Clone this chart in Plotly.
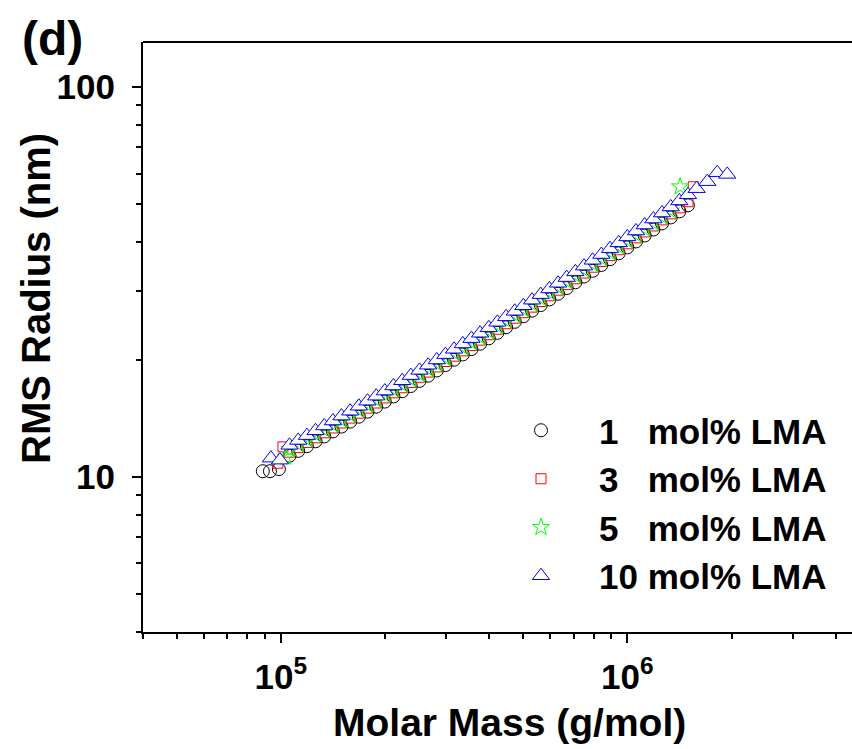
import math
import plotly.graph_objects as go

# ---------------- data ----------------
# common molar-mass grid (g/mol) along which points were read
M_grid = [105900, 112200, 118900, 125900, 133400, 141300, 149600, 158500, 167900, 177800,
          188400, 199500, 211300, 223900, 237100, 251200, 266100, 281800, 298500, 316200,
          335000, 354800, 375800, 398100, 421700, 446700, 473200, 501200, 530900, 562300,
          595700, 631000, 668300, 707900, 749900, 794300, 841400, 891300, 944100, 1000000,
          1059000, 1122000, 1189000, 1259000, 1334000, 1413000, 1496000, 1585000]

# 1 mol% LMA (black circles)
M_1 = [88700, 93000, 98700] + M_grid[:47]
R_1 = [10.34, 10.34, 10.47,
       11.33, 11.66, 11.99, 12.34, 12.70, 13.08, 13.46, 13.86, 14.27, 14.70,
       15.14, 15.60, 16.08, 16.58, 17.10, 17.63, 18.18, 18.75, 19.35, 19.98,
       20.61, 21.27, 21.96, 22.67, 23.42, 24.20, 24.99, 25.83, 26.70, 27.59,
       28.53, 29.50, 30.50, 31.56, 32.65, 33.78, 34.96, 36.18, 37.46, 38.79,
       40.18, 41.61, 43.11, 44.68, 46.30, 47.98, 49.74]

# 3 mol% LMA (red squares)
M_3 = [98000, 101400] + M_grid[:47] + [1550000]
R_3 = [10.84, 11.94,
       11.57, 11.90, 12.25, 12.60, 12.97, 13.35, 13.75, 14.15, 14.57, 15.01,
       15.47, 15.94, 16.43, 16.93, 17.46, 18.01, 18.57, 19.15, 19.77, 20.40,
       21.05, 21.72, 22.43, 23.16, 23.92, 24.71, 25.53, 26.38, 27.26, 28.18,
       29.14, 30.12, 31.15, 32.23, 33.34, 34.50, 35.70, 36.95, 38.26, 39.62,
       41.03, 42.50, 44.03, 45.63, 47.28, 49.00, 50.80,
       55.5]

# 5 mol% LMA (green stars)
M_5 = [103400] + M_grid[:45] + [1420000]
R_5 = [11.24,
       11.77, 12.11, 12.47, 12.83, 13.20, 13.59, 13.99, 14.40, 14.83, 15.28,
       15.74, 16.22, 16.72, 17.23, 17.77, 18.33, 18.90, 19.49, 20.12, 20.76,
       21.43, 22.11, 22.82, 23.57, 24.35, 25.15, 25.98, 26.85, 27.75, 28.68,
       29.65, 30.66, 31.70, 32.80, 33.93, 35.11, 36.34, 37.61, 38.93, 40.32,
       41.76, 43.25, 44.81, 46.44, 48.12,
       55.5]

# 10 mol% LMA (blue triangles)
M_10 = [93600, 99400] + M_grid + [1701000, 1817000, 1942000]
R_10 = [11.17, 11.04,
        12.05, 12.40, 12.76, 13.13, 13.51, 13.91, 14.32, 14.74, 15.18, 15.64,
        16.11, 16.60, 17.11, 17.64, 18.19, 18.76, 19.34, 19.95, 20.59, 21.25,
        21.93, 22.63, 23.36, 24.12, 24.92, 25.74, 26.59, 27.48, 28.40, 29.35,
        30.35, 31.38, 32.45, 33.57, 34.73, 35.94, 37.19, 38.49, 39.85, 41.27,
        42.74, 44.27, 45.86, 47.53, 49.25, 51.04, 52.92, 54.87,
        57.2, 60.3, 59.7]

labels = ["1\u00a0\u00a0\u00a0mol% LMA", "3\u00a0\u00a0\u00a0mol% LMA",
          "5\u00a0\u00a0\u00a0mol% LMA", "10 mol% LMA"]

x_major = [1e5, 1e6]
x_major_text = ["10<sup>5</sup>", "10<sup>6</sup>"]
x_minor = [4e4, 5e4, 6e4, 7e4, 8e4, 9e4, 2e5, 3e5, 4e5, 5e5, 6e5, 7e5, 8e5, 9e5,
           2e6, 3e6, 4e6]
y_major = [10, 100]
y_major_text = ["10", "100"]
y_minor = [4, 5, 6, 7, 8, 9, 20, 30, 40, 50, 60, 70, 80, 90]

# ---------------- figure ----------------
FONT = "Liberation Sans, Arial, sans-serif"

fig = go.Figure()
series = [
    (M_1, R_1, labels[0], "circle-open", "#000000", 13, None),
    (M_3, R_3, labels[1], "square-open", "#FF0000", 10, None),
    (M_5, R_5, labels[2], "star-open", "#00FF00", 13, None),
    (M_10, R_10, labels[3], "triangle-up", "#0000FF", 15, "#FFFFFF"),
]
for i, (mx, ry, name, sym, col, sz, fill) in enumerate(series):
    marker = dict(symbol=sym, size=sz, line=dict(color=col, width=1))
    marker["color"] = fill if fill else col
    fig.add_trace(go.Scatter(
        x=mx, y=ry, mode="markers", name=name, marker=marker,
    ))

tickfont = dict(family=FONT, size=35, color="black", weight="bold")

fig.update_xaxes(
    type="log", range=[math.log10(4e4), 6.6484],
    showline=True, linecolor="black", linewidth=2, mirror=False,
    showgrid=False, zeroline=False,
    tickmode="array", tickvals=x_major, ticktext=x_major_text,
    ticks="outside", ticklen=9, tickwidth=2, tickcolor="black",
    tickfont=tickfont, ticklabelstandoff=4,
    minor=dict(tickmode="array", tickvals=x_minor, ticks="outside",
               ticklen=5, tickwidth=2, tickcolor="black", showgrid=False),
)
fig.update_yaxes(
    type="log", range=[math.log10(4), math.log10(130.5)],
    showline=True, linecolor="black", linewidth=2, mirror=False,
    showgrid=False, zeroline=False,
    tickmode="array", tickvals=y_major, ticktext=y_major_text,
    ticks="outside", ticklen=9, tickwidth=2, tickcolor="black",
    tickfont=tickfont, ticklabelstandoff=10,
    minor=dict(tickmode="array", tickvals=y_minor, ticks="outside",
               ticklen=5, tickwidth=2, tickcolor="black", showgrid=False),
)

# top border line
fig.add_shape(type="line", xref="paper", yref="paper", x0=0, x1=1, y0=1, y1=1,
              line=dict(color="black", width=2))

W, H = 852, 749
ML, MR, MT, MB = 143, 0, 42, 117
pw, ph = W - ML - MR, H - MT - MB

def px_x(x):
    return (x - ML) / pw

def px_y(y):
    return (H - MB - y) / ph

fig.add_annotation(text="Molar Mass (g/mol)", xref="paper", yref="paper",
                   x=px_x(509), y=px_y(722), showarrow=False,
                   xanchor="center", yanchor="middle",
                   font=dict(family=FONT, size=39, color="black", weight="bold"))
fig.add_annotation(text="RMS Radius (nm)", xref="paper", yref="paper",
                   x=px_x(36), y=px_y(299), showarrow=False, textangle=-90,
                   xanchor="center", yanchor="middle",
                   font=dict(family=FONT, size=40, color="black", weight="bold"))
fig.add_annotation(text="(d)", xref="paper", yref="paper",
                   x=px_x(52), y=px_y(39), showarrow=False,
                   xanchor="center", yanchor="middle",
                   font=dict(family=FONT, size=48, color="black", weight="bold"))

fig.update_layout(
    width=W, height=H,
    margin=dict(l=ML, r=MR, t=MT, b=MB, pad=0),
    paper_bgcolor="white", plot_bgcolor="white",
    showlegend=True,
    legend=dict(
        x=px_x(483), y=px_y(401), xanchor="left", yanchor="top",
        bgcolor="rgba(0,0,0,0)", borderwidth=0,
        font=dict(family=FONT, size=35, color="black", weight="bold"),
        itemwidth=106,
    ),
)

fig.write_html("out.html")
